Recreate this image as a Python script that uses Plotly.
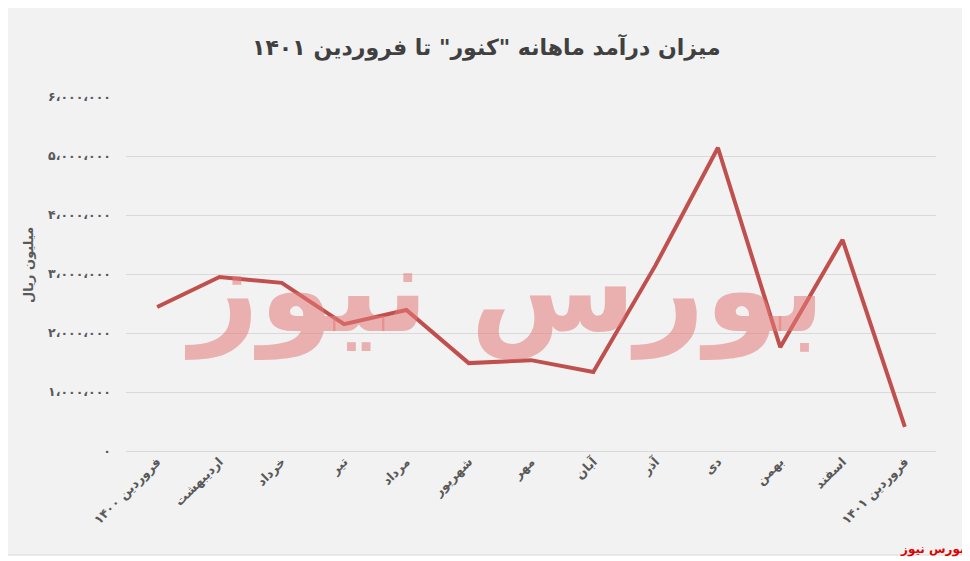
import plotly.graph_objects as go

months = ["فروردین ۱۴۰۰", "اردیبهشت", "خرداد", "تیر", "مرداد", "شهریور", "مهر",
          "آبان", "آذر", "دی", "بهمن", "اسفند", "فروردین ۱۴۰۱"]
revenue = [2440000, 2950000, 2850000, 2150000, 2390000, 1490000, 1540000,
           1340000, 3150000, 5140000, 1760000, 3580000, 410000]
y_tick_vals = [0, 1000000, 2000000, 3000000, 4000000, 5000000, 6000000]
y_tick_text = ["۰", "۱،۰۰۰،۰۰۰", "۲،۰۰۰،۰۰۰", "۳،۰۰۰،۰۰۰", "۴،۰۰۰،۰۰۰", "۵،۰۰۰،۰۰۰", "۶،۰۰۰،۰۰۰"]

# page has an 8px body margin; figure coordinates = reference pixels - 8
OFF = 8
W, H = 962, 553
L, R, T, B = 126 - OFF, 970 - 936, 97 - OFF, 561 - 451
pw, ph = W - L - R, H - T - B

def px(x):
    return (x - OFF - L) / pw

def py(y):
    return (H - B - (y - OFF)) / ph

FONT = "DejaVu Sans"

fig = go.Figure()
fig.add_trace(go.Scatter(
    x=months, y=revenue, mode="lines",
    line=dict(color="#c0504d", width=4),
    hoverinfo="skip", showlegend=False,
))

fig.update_layout(
    width=W, height=H,
    margin=dict(l=L, r=R, t=T, b=B),
    paper_bgcolor="white",
    plot_bgcolor="rgba(0,0,0,0)",
    font=dict(family=FONT, color="#595959"),
    xaxis=dict(
        type="category", tickangle=-45,
        tickfont=dict(size=12.5, color="#595959"),
        showgrid=False, showline=False, zeroline=False,
        ticks="", range=[-0.5, 12.5],
        tickvals=months, ticktext=["<b>%s</b>" % m for m in months],
    ),
    yaxis=dict(
        range=[0, 6000000],
        tickvals=y_tick_vals,
        ticktext=["<b>%s</b>" % t for t in y_tick_text],
        tickfont=dict(size=12.5, color="#595959"),
        showgrid=True, gridcolor="#d9d9d9", gridwidth=1,
        zeroline=True, zerolinecolor="#d9d9d9", zerolinewidth=1,
        showline=False, ticks="", ticklabelstandoff=14,
    ),
    shapes=[
        dict(type="rect", xref="paper", yref="paper", layer="below",
             x0=px(5), x1=px(963), y0=py(555), y1=py(7),
             fillcolor="#f2f2f2", line=dict(color="#d9d9d9", width=1)),
    ],
    annotations=[
        dict(text="<b>میزان درآمد ماهانه \"کنور\" تا فروردین ۱۴۰۱</b>",
             xref="paper", yref="paper", x=px(486), y=py(47),
             showarrow=False, font=dict(size=22, color="#404040", family=FONT),
             xanchor="center", yanchor="middle"),
        dict(text="<b>میلیون ریال</b>",
             xref="paper", yref="paper", x=px(28), y=py(265), textangle=-90,
             showarrow=False, font=dict(size=13, color="#595959", family=FONT),
             xanchor="center", yanchor="middle"),
        dict(text="<b>بورس نیوز</b>",
             xref="paper", yref="paper", x=px(505), y=py(290),
             showarrow=False, font=dict(size=120, color="rgba(228,120,120,0.55)", family=FONT),
             xanchor="center", yanchor="middle"),
        dict(text="<b>بورس نیوز</b>",
             xref="paper", yref="paper", x=px(967), y=py(549),
             showarrow=False, font=dict(size=12, color="#e00000", family=FONT),
             xanchor="right", yanchor="middle"),
    ],
)

fig.write_html("out.html")
